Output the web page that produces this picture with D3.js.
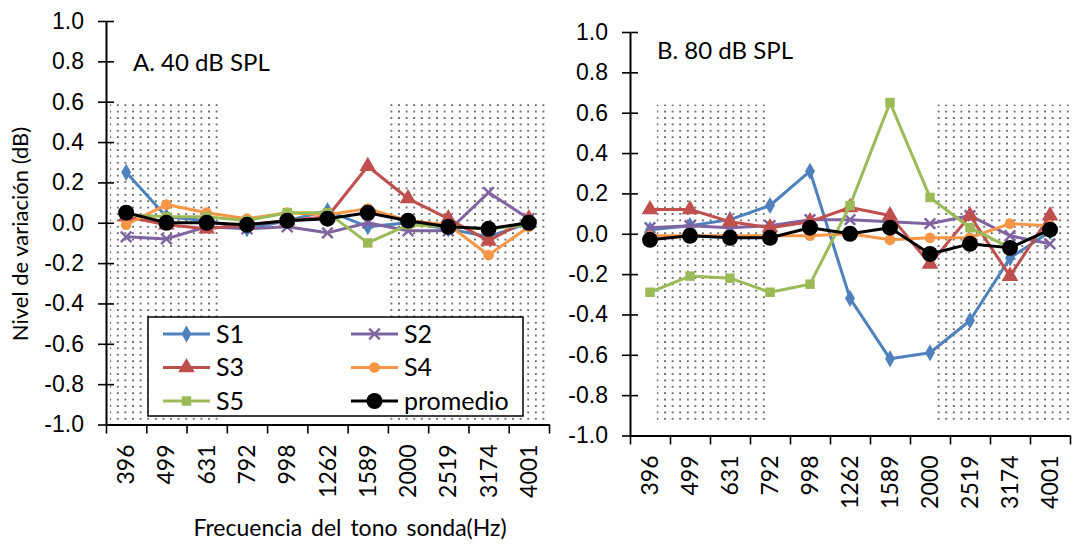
<!DOCTYPE html>
<html>
<head>
<meta charset="utf-8">
<script src="https://cdn.jsdelivr.net/npm/d3@7"></script>
<style>
  body { margin: 0; background: #fff; }
  svg { display: block; font-family: Lato, "Open Sans", sans-serif; }
</style>
</head>
<body>
<svg id="chart" width="1089" height="547"></svg>
<script>
// Probe-tone frequencies (Hz)
const frequencies = ["396", "499", "631", "792", "998", "1262", "1589", "2000", "2519", "3174", "4001"];
const seriesNames = ["S1", "S2", "S3", "S4", "S5", "promedio"];
const yTicks = [-1.0, -0.8, -0.6, -0.4, -0.2, 0.0, 0.2, 0.4, 0.6, 0.8, 1.0];

// Panel A: 40 dB SPL
const a_S1 = [0.25, 0.03, 0.01, -0.03, 0.01, 0.06, -0.02, 0.00, -0.03, -0.07, 0.00];
const a_S2 = [-0.07, -0.08, -0.02, -0.03, -0.02, -0.05, 0.00, -0.04, -0.04, 0.15, 0.02];
const a_S3 = [0.03, -0.01, -0.03, -0.01, 0.01, 0.03, 0.28, 0.12, 0.02, -0.09, 0.02];
const a_S4 = [-0.01, 0.09, 0.05, 0.02, 0.05, 0.04, 0.07, 0.01, -0.01, -0.16, -0.02];
const a_S5 = [0.04, 0.03, 0.03, 0.01, 0.05, 0.05, -0.10, -0.01, -0.02, -0.03, -0.01];
const a_mean = [0.05, 0.00, 0.00, -0.01, 0.01, 0.02, 0.05, 0.01, -0.02, -0.03, 0.00];

// Panel B: 80 dB SPL
const b_S1 = [0.02, 0.04, 0.07, 0.14, 0.31, -0.32, -0.62, -0.59, -0.43, -0.12, 0.01];
const b_S2 = [0.03, 0.04, 0.03, 0.04, 0.07, 0.07, 0.06, 0.05, 0.09, -0.01, -0.05];
const b_S3 = [0.12, 0.12, 0.06, 0.03, 0.06, 0.13, 0.09, -0.15, 0.09, -0.21, 0.09];
const b_S4 = [-0.01, -0.01, -0.01, -0.01, -0.01, 0.00, -0.03, -0.02, -0.02, 0.05, 0.04];
const b_S5 = [-0.29, -0.21, -0.22, -0.29, -0.25, 0.14, 0.65, 0.18, 0.03, -0.07, 0.02];
const b_mean = [-0.03, -0.01, -0.02, -0.02, 0.03, 0.00, 0.03, -0.10, -0.05, -0.07, 0.02];

const colors = {
  S1: "#4F81BD", S2: "#8064A2", S3: "#C0504D", S4: "#F79646", S5: "#9BBB59", promedio: "#000000"
};

const svg = d3.select("#chart");

// dotted fill for the shaded frequency ranges
const defs = svg.append("defs");
const pat = defs.append("pattern")
  .attr("id", "dots").attr("patternUnits", "userSpaceOnUse")
  .attr("width", 7.6).attr("height", 6.4);
pat.append("rect").attr("width", 7.6).attr("height", 6.4).attr("fill", "#fff");
pat.append("rect").attr("x", 3).attr("y", 2).attr("width", 1.6).attr("height", 1.6).attr("fill", "#333");

const fmt = v => (Math.abs(v) < 1e-9 ? "0.0" : v.toFixed(1));

function markerPath(name, size) {
  const type = { S1: d3.symbolDiamond, S2: d3.symbolTimes, S3: d3.symbolTriangle,
                 S4: d3.symbolCircle, S5: d3.symbolSquare, promedio: d3.symbolCircle }[name];
  return d3.symbol(type, size)();
}
const markerSize = { S1: 85, S2: 75, S3: 120, S4: 90, S5: 90, promedio: 200 };

function drawPanel(opt) {
  const g = svg.append("g");
  const x = d3.scaleBand().domain(frequencies).range([opt.x0, opt.x1]).padding(0);
  const y = d3.scaleLinear().domain([-1, 1]).range([opt.y1, opt.y0]);
  const bw = x.bandwidth();

  // shaded regions
  opt.shade.forEach(s => {
    const xa = x(s.from) + s.fromFrac * bw;
    const xb = x(s.to) + s.toFrac * bw;
    g.append("rect")
      .attr("x", xa).attr("y", y(s.top))
      .attr("width", xb - xa).attr("height", y(s.bottom) - y(s.top))
      .attr("fill", "url(#dots)");
  });

  // y axis with ticks crossing the line
  const yAxis = g.append("g").attr("transform", `translate(${opt.x0},0)`)
    .call(d3.axisLeft(y).tickValues(yTicks).tickFormat(fmt).tickSizeInner(8).tickSizeOuter(0).tickPadding(14));
  g.append("g").attr("transform", `translate(${opt.x0},0)`)
    .call(d3.axisRight(y).tickValues(yTicks).tickFormat("").tickSizeInner(8).tickSizeOuter(0))
    .select(".domain").remove();
  yAxis.select(".domain").attr("stroke-width", 2);
  yAxis.selectAll("text").attr("font-size", 23).attr("fill", "#000");
  g.selectAll(".tick line").attr("stroke", "#000").attr("stroke-width", 1.6);

  // x axis: boundary ticks + rotated labels
  const xb = d3.scaleLinear().domain([0, frequencies.length]).range([opt.x0, opt.x1]);
  const xAxis = g.append("g").attr("transform", `translate(0,${y(-1)})`)
    .call(d3.axisBottom(xb).tickValues(d3.range(frequencies.length + 1)).tickFormat("").tickSizeInner(9).tickSizeOuter(0));
  xAxis.select(".domain").attr("stroke-width", 2.2);
  xAxis.selectAll(".tick line").attr("stroke-width", 1.6).attr("stroke", "#000");

  g.append("g").selectAll("text").data(frequencies).join("text")
    .attr("transform", d => `translate(${x(d) + bw / 2 + 8},${y(-1) + 20}) rotate(-90)`)
    .attr("text-anchor", "end")
    .attr("font-size", 23).attr("fill", "#000")
    .text(d => d);

  // series lines and markers
  const line = d3.line().x((d, i) => x(frequencies[i]) + bw / 2).y(d => y(d));
  opt.series.forEach((vals, k) => {
    const name = seriesNames[k];
    const c = colors[name];
    g.append("path").datum(vals)
      .attr("d", line).attr("fill", "none").attr("stroke", c)
      .attr("stroke-width", 3).attr("stroke-linejoin", "round");
    const m = g.append("g").selectAll("path").data(vals).join("path")
      .attr("transform", (d, i) => `translate(${x(frequencies[i]) + bw / 2},${y(d)})`)
      .attr("d", markerPath(name, markerSize[name]));
    if (name === "S2") m.attr("fill", "none").attr("stroke", c).attr("stroke-width", 2.4);
    else m.attr("fill", c);
  });

  // panel title
  g.append("text").attr("x", opt.titleX).attr("y", opt.titleY)
    .attr("font-size", 24).attr("fill", "#000").text(opt.title);
  return { x, y };
}

drawPanel({
  x0: 106, x1: 549, y0: 21, y1: 424.5,
  series: [a_S1, a_S2, a_S3, a_S4, a_S5, a_mean],
  shade: [
    { from: "396", fromFrac: 0.1, to: "631", toFrac: 0.87, top: 0.59, bottom: -0.99 },
    { from: "2000", fromFrac: 0.03, to: "4001", toFrac: 1.0, top: 0.59, bottom: -0.99 }
  ],
  title: "A. 40 dB SPL", titleX: 133, titleY: 71
});

drawPanel({
  x0: 630, x1: 1070, y0: 32, y1: 435.5,
  series: [b_S1, b_S2, b_S3, b_S4, b_S5, b_mean],
  shade: [
    { from: "396", fromFrac: 0.67, to: "792", toFrac: 0.45, top: 0.64, bottom: -0.94 },
    { from: "2000", fromFrac: 0.62, to: "4001", toFrac: 1.05, top: 0.64, bottom: -0.94 }
  ],
  title: "B. 80 dB SPL", titleX: 657, titleY: 59
});

// axis titles
svg.append("text")
  .attr("transform", "translate(28,234) rotate(-90)")
  .attr("text-anchor", "middle").attr("font-size", 22).attr("fill", "#000")
  .text("Nivel de variación (dB)");
svg.append("text")
  .attr("x", 350).attr("y", 536)
  .attr("text-anchor", "middle").attr("font-size", 23).attr("fill", "#000")
  .attr("word-spacing", 3)
  .text("Frecuencia del tono sonda(Hz)");

// legend
const lg = svg.append("g");
lg.append("rect").attr("x", 148).attr("y", 317).attr("width", 375).attr("height", 99)
  .attr("fill", "#fff").attr("stroke", "#000").attr("stroke-width", 1.5);
seriesNames.forEach((name, i) => {
  const col = i % 2, row = Math.floor(i / 2);
  const lx = col === 0 ? 163 : 351;
  const ly = 334 + row * 33.5;
  const c = colors[name];
  lg.append("line").attr("x1", lx).attr("x2", lx + 47).attr("y1", ly).attr("y2", ly)
    .attr("stroke", c).attr("stroke-width", 3);
  const m = lg.append("path").attr("transform", `translate(${lx + 23.5},${ly})`)
    .attr("d", markerPath(name, markerSize[name]));
  if (name === "S2") m.attr("fill", "none").attr("stroke", c).attr("stroke-width", 2.4);
  else m.attr("fill", c);
  lg.append("text").attr("x", lx + 53).attr("y", ly + 8.5)
    .attr("font-size", 25).attr("fill", "#000").text(name);
});
</script>
</body>
</html>
